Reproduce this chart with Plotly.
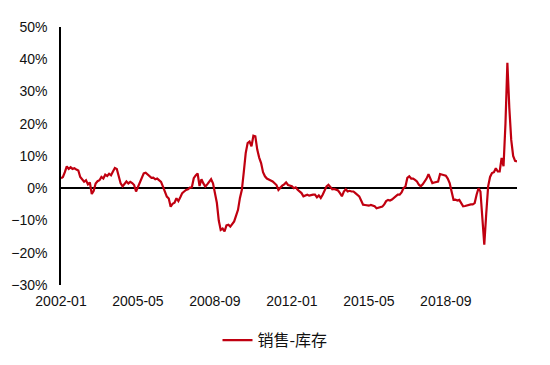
import plotly.graph_objects as go

start_year, start_month = 2002, 1
values = [
    3.1, 3.5, 5.0, 6.8, 6.0, 6.5, 6.0, 6.2, 5.8, 5.5,
    3.5, 2.8, 2.0, 2.5, 1.2, 1.8, -1.8, -0.8, 1.5, 2.2,
    2.5, 3.5, 3.0, 4.2, 3.8, 4.5, 4.0, 5.2, 6.3, 6.0,
    3.5, 1.5, 0.6, 1.2, 2.1, 1.5, 2.0, 1.6, 1.0, -1.0,
    0.5, 1.5, 3.5, 4.6, 4.8, 4.3, 3.8, 3.2, 3.3, 2.8,
    3.0, 2.5, 2.0, 0.5, -1.0, -2.6, -3.2, -5.7, -4.8, -4.5,
    -3.1, -4.0, -2.8, -1.5, -1.0, -0.5, -0.3, 0.2, 0.3, 3.1,
    4.0, 4.6, 0.7, 2.8, 1.5, 0.5, 1.2, 2.0, 2.8, 1.5,
    -1.0, -4.5, -10.0, -12.9, -12.5, -13.4, -11.5, -11.3, -11.9, -11.0,
    -10.3, -8.5, -6.7, -3.0, -0.5, 5.0, 10.9, 14.0, 14.5, 13.0,
    16.3, 16.1, 12.0, 9.5, 7.8, 5.0, 3.7, 3.0, 2.6, 2.4,
    2.1, 1.5, 1.0, -0.5, 0.3, 0.8, 1.2, 1.8, 1.0, 0.8,
    0.6, 0.0, 0.3, -0.5, -1.0, -1.5, -2.5, -2.3, -2.0, -2.3,
    -2.1, -2.0, -2.0, -2.8, -2.2, -3.0, -2.0, -0.5, 0.6, 1.1,
    0.5, -0.3, -0.2, -0.5, -0.7, -1.5, -2.5, -1.0, -0.3, -1.0,
    -0.8, -1.0, -1.0, -1.5, -2.0, -2.5, -3.8, -5.1, -5.2, -5.3,
    -5.4, -5.2, -5.4, -5.6, -6.2, -6.0, -5.8, -5.7, -5.0, -4.0,
    -3.6, -3.8, -3.5, -3.0, -2.5, -2.0, -2.0, -1.3, 0.0, 0.5,
    3.2, 3.7, 3.0, 3.0, 2.6, 2.1, 1.1, 0.6, 1.2, 2.1,
    3.0, 4.4, 3.0, 1.6, 1.8, 2.0, 2.1, 4.4, 4.2, 4.0,
    3.9, 3.0, 1.6, -1.0, -3.6, -3.5, -3.8, -3.6, -4.5, -5.6,
    -5.5, -5.3, -5.1, -5.0, -5.0, -4.6, -2.0, 0.0, -1.0, -8.0,
    -17.5, -8.0, 0.6, 3.5, 4.7, 5.0, 6.2, 5.2, 5.2, 9.4,
    6.8, 20.0, 38.9, 25.0, 15.0, 10.0, 8.5, 8.3,
]

dates = []
for i in range(len(values)):
    m = start_month - 1 + i
    dates.append(f"{start_year + m // 12}-{m % 12 + 1:02d}")

tick_labels = ["2002-01", "2005-05", "2008-09", "2012-01", "2015-05", "2018-09"]
y_ticks = [-30, -20, -10, 0, 10, 20, 30, 40, 50]
series_name = "销售-库存"

idx = list(range(len(values)))
tick_pos = [dates.index(t) for t in tick_labels]

fig = go.Figure()
fig.add_trace(go.Scatter(
    x=idx, y=values, mode="lines", name=series_name,
    line=dict(color="#C00010", width=2.2),
    text=dates, hovertemplate="%{text}: %{y}%<extra></extra>",
))

fig.update_layout(
    width=550, height=365,
    margin=dict(l=61, r=33, t=27, b=80),
    paper_bgcolor="white", plot_bgcolor="white",
    font=dict(family="Liberation Sans, Arial, sans-serif", size=14, color="#111"),
    showlegend=True,
    legend=dict(orientation="h", xref="container", yref="container",
                x=0.5, xanchor="center", y=0.068, yanchor="middle",
                font=dict(family="Noto Sans CJK SC", size=16, color="#111")),
)
fig.update_xaxes(
    range=[0, len(values) - 1], tickvals=tick_pos, ticktext=tick_labels,
    showgrid=False, showline=False, ticks="", zeroline=False,
    tickfont=dict(size=14), ticklabelstandoff=6,
)
fig.update_yaxes(
    range=[-30, 50], tickvals=y_ticks, ticktext=[(f"\u2212{-v}%" if v < 0 else f"{v}%") for v in y_ticks],
    showgrid=False, showline=True, linecolor="black", linewidth=1.5,
    ticks="", zeroline=True, zerolinecolor="black", zerolinewidth=1.5,
    tickfont=dict(size=14), ticklabelstandoff=9,
)

fig.write_html("out.html")
